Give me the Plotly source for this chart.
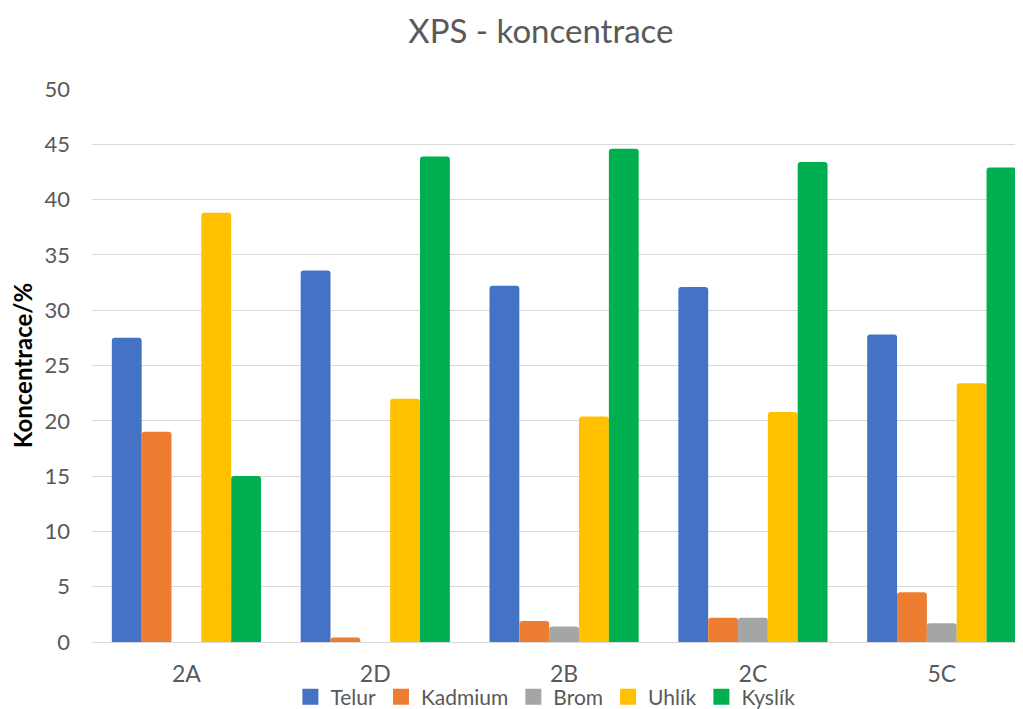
import plotly.graph_objects as go

categories = ["2A", "2D", "2B", "2C", "5C"]
telur = [27.5, 33.6, 32.2, 32.1, 27.8]
kadmium = [19.0, 0.4, 1.9, 2.2, 4.5]
brom = [0.0, 0.0, 1.4, 2.2, 1.7]
uhlik = [38.8, 22.0, 20.4, 20.8, 23.4]
kyslik = [15.0, 43.9, 44.6, 43.4, 42.9]

series = [
    ("Telur", telur, "#4472C4"),
    ("Kadmium", kadmium, "#ED7D31"),
    ("Brom", brom, "#A5A5A5"),
    ("Uhlík", uhlik, "#FFC000"),
    ("Kyslík", kyslik, "#00B050"),
]

fig = go.Figure()
for name, vals, col in series:
    fig.add_trace(go.Bar(x=categories, y=vals, name=name, marker_color=col,
                         marker_line_width=0, showlegend=False))
# legend proxies (square swatches)
for name, vals, col in series:
    fig.add_trace(go.Scatter(x=[None], y=[None], mode="markers", name=name,
                             marker=dict(symbol="square", size=20, color=col),
                             showlegend=True))

font_fam = "Lato, 'Open Sans', sans-serif"
# page body has an 8px margin, so the figure is sized/offset to compensate
fig.update_layout(
    width=1015, height=701,
    margin=dict(l=84, r=0, t=81, b=67, autoexpand=False),
    paper_bgcolor="white", plot_bgcolor="white",
    barmode="group", bargap=0.21, bargroupgap=0.0,
    barcornerradius=3,
    title=dict(text="XPS - koncentrace", x=0.525, xanchor="center", y=0.966, yanchor="middle",
               font=dict(family=font_fam, size=33, color="#595959")),
    font=dict(family=font_fam, color="#595959"),
    xaxis=dict(range=[-0.5, 4.43], showgrid=False, showline=True, linecolor="#D9D9D9",
               linewidth=1, ticks="", ticklabelstandoff=11, automargin=False,
               tickfont=dict(size=23, color="#595959")),
    yaxis=dict(range=[0, 50], dtick=5, showgrid=True, gridcolor="#D9D9D9", gridwidth=1,
               zeroline=False, showline=False, ticks="", ticklabelstandoff=21,
               automargin=False,
               tickfont=dict(size=22, color="#595959"),
               title=dict(text="<b>Koncentrace/%</b>", standoff=5,
                          font=dict(size=24, color="black"))),
    legend=dict(orientation="h", x=0.487, xanchor="center", y=-0.0995, yanchor="middle",
                font=dict(size=21, color="#595959"), itemwidth=30, itemsizing="trace",
                tracegroupgap=0, bgcolor="rgba(0,0,0,0)"),
)

fig.write_html("out.html")
